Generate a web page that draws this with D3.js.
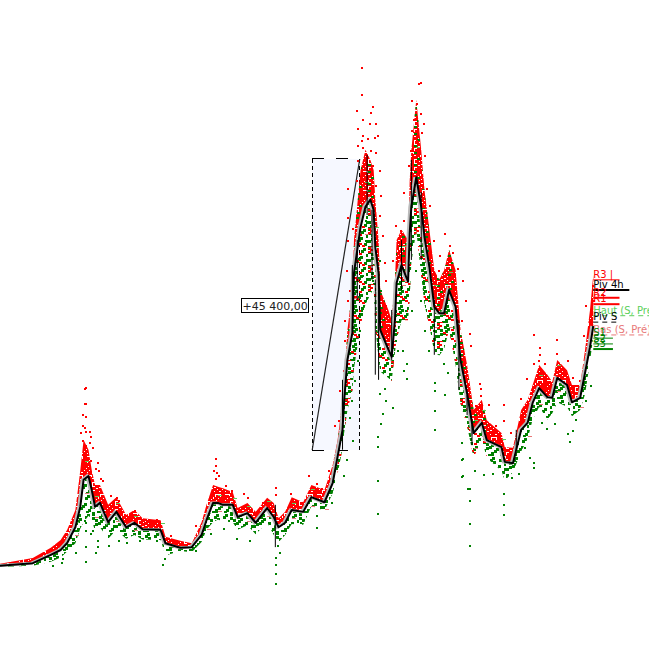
<!DOCTYPE html>
<html>
<head>
<meta charset="utf-8">
<script src="https://cdn.jsdelivr.net/npm/d3@7"></script>
<style>
body { margin: 0; background: #fff; }
text { font-family: "DejaVu Sans", sans-serif; font-size: 10px; }
</style>
</head>
<body>
<div id="chart"></div>
<script>
var width = 649;
var height = 658;

// weekly closes
var closeWeeks = [0,20,31,37,41,46,49,51,54,56,58,61,66,71,77,82,87,98,101,110,117,123,126,130,133,136,142,145,151,156,163,167,170,174,178,185,190,198,203,206,209,210,212,215,216,220,223,226,228,229,231,232,237,239,241,242,245,249,250,251,254,257,259,262,265,268,271,274,278,281,285,289,294,297,306,308,313,318,322,325,329,334,337,340,346,349,354,357,360,362];
var closeVals = [200,600,1900,2650,3750,6200,9400,13600,14200,12000,9400,10000,7000,8600,6200,6900,5900,5800,3700,3000,3100,5000,7300,10000,10000,9700,9700,7800,8400,6900,9200,7800,6200,6900,8900,8600,10900,10100,13100,17200,21400,26000,32300,36500,45900,53000,56200,57300,55700,49900,45900,37000,33900,32800,38500,44300,47100,44500,52100,56200,60800,56200,51500,46800,40600,39600,39600,43200,40600,32300,27100,20900,22500,19800,18700,16400,16200,21400,22500,25600,27900,26500,26400,29500,28400,25700,26400,30300,34300,37600];

// top of the red cloud and bottom of the green cloud, same weeks as the closes
var redTop = [500,1400,3000,4200,5800,8900,15100,19800,18300,15100,12800,12800,9700,10900,8100,8900,7600,7300,4700,4100,3700,7000,9700,12800,12500,12300,11700,9200,10000,8600,10800,10000,7600,8600,10900,10100,12800,12000,15900,19800,26100,28400,37000,43200,51000,61900,65100,63500,61900,57300,51000,43200,40100,38500,44800,51000,52600,51000,60400,65100,72900,65100,58800,52600,46300,44800,46300,49500,46300,37000,31500,24500,26100,22900,20900,18700,18600,24500,26100,28400,31500,30000,28900,32300,30700,28400,28400,33900,40100,45600];
var greenBot = [0,200,800,1500,2400,3700,6000,7000,8000,7500,5500,6200,4400,5800,4400,5000,4300,4200,1800,2500,2300,3900,5800,7000,7400,7100,7000,5800,6500,5100,7000,5000,3900,5000,6700,6600,9500,8800,11500,14500,18500,21000,24500,27500,31000,37500,41000,42500,43500,37500,32500,30500,29500,29000,33500,35500,38500,38500,42000,47500,52500,45500,41000,37500,33500,33000,34000,37000,31500,25500,22000,17000,20000,17000,15000,13500,14800,18000,20000,23000,25000,23000,24000,25700,25000,23500,24500,27000,32000,36000];

// loose red points
var redWeeks = [51,52,51,52,50,52,50,51,49,52,54,55,50,52,54,56,55,58,61,60,62,59,67,71,72,82,83,89,95,104,119,131,131,130,132,131,133,137,141,148,151,160,168,168,177,188,193,193,196,200,203,209,207,206,204,210,210,212,213,211,212,212,212,215,216,217,217,218,220,220,220,217,227,226,221,218,225,229,221,230,224,228,221,218,226,229,223,227,231,220,224,229,232,231,233,234,235,233,237,235,256,255,251,254,256,252,258,251,257,254,250,259,249,260,246,262,241,246,244,249,242,239,247,264,268,267,271,274,276,279,282,284,281,286,287,292,293,298,293,290,307,307,311,302,300,317,321,325,329,329,325,328,332,331,339,339,340,346,343,349,353,360,356,357,361,362];
var redVals = [27900,28100,25600,25600,23900,23600,22200,21800,21100,21200,21200,20400,19800,19000,19500,18700,16700,15400,13900,15100,13600,16400,11200,10900,10500,8900,8100,7300,7500,5000,6600,17000,15900,15100,14800,13900,14400,12800,12000,11500,10900,10100,12500,11400,11500,14400,13100,12000,12300,15100,15900,30700,27600,22900,22200,35400,38500,41700,43200,46300,59100,54600,51000,52900,47900,54900,60400,63500,66600,78000,73800,71300,71900,71000,69900,68500,69300,69300,67400,67400,66900,67100,65500,65800,65100,64700,63800,62700,61900,61200,60700,59600,58000,54900,51800,47600,44800,41700,37800,40900,75700,75500,72900,72400,70800,69900,69300,68200,67900,66600,65100,64300,62700,59100,58500,56500,53400,54100,52600,53400,50700,47900,49500,51000,48700,46300,52100,50200,49100,46600,44800,41700,38500,36500,34600,28700,27900,25400,26800,25300,25400,22900,21100,22200,21100,26400,29500,36300,34300,33200,31800,32300,31800,30300,35600,33400,32000,32300,31000,29600,29200,39300,36200,40900,44000,41700];

// loose green points
var greenWeeks = [52,52,58,59,59,52,55,52,51,56,66,72,77,85,95,99,100,32,38,46,37,168,168,168,168,170,169,144,152,119,136,128,193,193,183,209,211,202,230,230,230,230,232,233,239,235,231,234,248,248,246,271,265,265,273,270,265,265,281,282,282,286,286,286,286,213,214,216,218,219,220,215,229,227,224,221,223,226,232,231,223,256,253,256,251,259,262,255,258,261,264,245,242,247,241,325,325,323,320,295,289,300,330,333,338,347,349,351,346,312,316,357,360,307,307,307,285,281,281];
var greenVals = [900,3300,2300,3300,4200,5800,5300,7000,7300,5800,3400,4200,3900,4200,4200,500,1400,300,1400,2300,800,-2500,-900,500,1600,2300,3400,4500,4200,2700,6100,5300,8100,6200,7000,14400,16800,10100,8400,13600,18900,20400,22500,24000,25000,26100,27100,27900,31800,29500,30700,27000,27600,28900,30400,31800,21500,24500,19500,17000,14400,10500,12300,6900,3400,23400,26000,29200,32300,37000,40100,19800,41700,44800,47900,45600,51000,53400,43200,47900,54100,51000,46300,41700,40100,37000,41700,53400,44800,33900,37000,33900,33900,40100,35400,15600,16400,17200,18700,14500,15100,14700,22600,21700,22500,19700,21400,23100,20900,14000,14700,26100,28400,8300,11500,9800,12300,14200,16800];

// weekly previous high / low marks
var hautWeeks = [46,52,58,71,82,98,126,133,142,151,163,178,190,198,216,223,229,245,254,265,274,289,294,306,322,329,340,354];
var hautVals = [7000,16500,11000,10000,8000,6800,8500,11200,10800,9500,10300,10000,12200,11200,49000,60000,53000,50000,65500,44000,46000,23000,24500,20000,24500,30000,31500,28000];
var basVals = [5000,11500,7800,7200,5700,4700,6000,8800,8500,7200,8000,7600,9500,9000,42000,52000,45000,44000,56000,37500,37500,18500,20500,17000,20500,25500,27500,25000];

// wicks around the closes
var wickWeeks = [209,215,218,224,227,229,231,239,245,251,257,265,280,285,168,288,315];
var wickHigh = [29200,47100,51000,64300,55700,44800,43200,40100,51000,63500,58500,41700,38500,26800,9700,22200,21400];
var wickLow = [18300,37000,41700,54900,44800,30000,29200,32300,43200,47900,47900,33100,27600,23700,3100,19000,18300];

// price levels at the right
var levelNames = ["R3 |","Piv 4h","R2","R1","Haut (S, Pré)","Piv S","Bas (S, Pré)","S1","S2","S3"];
var levelVals = [44800,43200,42000,41000,39200,38200,36200,35700,34800,34000];
var levelEnds = [378,384,378,378,396,378,396,374,374,374];
var levelColors = ["#ff0000","#000","#ff0000","#ff0000","#5ad05a","#000","#e87878","#008000","#008000","#008000"];
var levelDash = [null,null,null,null,"5 4","5 4","5 4",null,null,null];
var levelWidths = [1,2,2,2,1,1,1,1,1,2];

// price range measure
var measureWeeks = [190.5,219.5];
var measureVals = [18250,63650];
var measureLabel = "+45 400,00";

var x = d3.scaleLinear().domain([0,396]).range([0,649]);
var y = d3.scaleLinear().domain([0,88452]).range([567,0]);

var svg = d3.select('#chart')
  .append('svg')
  .attr('width', width)
  .attr('height', height)
  .style('display', 'block');

// speckle tiles for the dense part of the clouds
var speckle = [[0,0],[4,0],[9,1],[14,0],[18,1],[2,2],[7,3],[12,3],[16,3],[21,2],[0,4],[5,5],[10,5],[19,5],[3,6],[14,6],[8,7],[17,7],[21,7],[1,8],[6,9],[11,8],[15,9],[20,9],[3,10],[9,11],[13,11],[18,11],[0,12],[6,13],[11,13],[16,13],[21,12],[3,14],[8,15],[14,15],[19,15],[1,16],[5,17],[11,17],[17,17],[21,17],[8,18],[14,18],[0,18],[3,18]];
var defs = svg.append('defs');
function makeTile(id, color, step, w, h) {
  var p = defs.append('pattern')
    .attr('id', id)
    .attr('patternUnits', 'userSpaceOnUse')
    .attr('width', 23)
    .attr('height', 19);
  p.selectAll('rect')
    .data(speckle.filter(function(d, i) { return i % step == 0; }))
    .enter()
    .append('rect')
    .attr('x', function(d) { return d[0]; })
    .attr('y', function(d) { return d[1]; })
    .attr('width', w)
    .attr('height', h)
    .attr('fill', color);
}
makeTile('redTile', '#ff0000', 1, 4, 3);
makeTile('redSparse', '#ff0000', 5, 3, 2);
makeTile('greenTile', '#008000', 2, 3, 3);
makeTile('greenSparse', '#008000', 7, 3, 2);

// measure box
var bx0 = x(measureWeeks[0]), bx1 = x(measureWeeks[1]);
var by0 = y(measureVals[0]), by1 = y(measureVals[1]);

svg.append('rect')
  .attr('x', bx0)
  .attr('y', by1)
  .attr('width', bx1 - bx0)
  .attr('height', by0 - by1)
  .attr('fill', '#f6f8ff');

var box = svg.append('g').attr('stroke', '#000').attr('shape-rendering', 'crispEdges');
box.append('line').attr('x1', bx0).attr('x2', bx0).attr('y1', by1).attr('y2', by0).attr('stroke-dasharray', '4 3');
box.append('line').attr('x1', bx1).attr('x2', bx1).attr('y1', by1).attr('y2', by0).attr('stroke-dasharray', '4 3');
box.append('line').attr('x1', bx0).attr('x2', bx1).attr('y1', by1).attr('y2', by1).attr('stroke-dasharray', '12 12');
box.append('line').attr('x1', bx0).attr('x2', bx1).attr('y1', by0).attr('y2', by0).attr('stroke-dasharray', '12 12');

svg.append('line')
  .attr('x1', bx0)
  .attr('y1', by0)
  .attr('x2', bx1)
  .attr('y2', by1)
  .attr('stroke', '#222')
  .attr('stroke-width', 1.2);

var labelBox = svg.append('g').attr('transform', 'translate(' + (bx0 - 70.5) + ',' + Math.round((by0 + by1) / 2 - 7) + '.5)');
labelBox.append('rect').attr('width', 67).attr('height', 14).attr('fill', '#fff').attr('stroke', '#000').attr('shape-rendering', 'crispEdges');
labelBox.append('text').attr('x', 33.5).attr('y', 11).attr('text-anchor', 'middle').attr('fill', '#222').style('font-size', '11px').text(measureLabel);

// clouds
var idx = d3.range(closeWeeks.length);
var peakIdx = idx.filter(function(i) { return closeWeeks[i] >= 206 && closeWeeks[i] <= 297; });
var redArea = d3.area()
  .x(function(i) { return x(closeWeeks[i]); })
  .y0(function(i) { return y(closeVals[i]); })
  .y1(function(i) { return y(redTop[i]); });
var greenArea = d3.area()
  .x(function(i) { return x(closeWeeks[i]); })
  .y0(function(i) { return y(closeVals[i]); })
  .y1(function(i) { return y(greenBot[i]); });

svg.append('path').attr('d', greenArea(idx)).attr('fill', 'url(#greenTile)');
svg.append('path').attr('d', redArea(idx)).attr('fill', 'url(#redTile)');
// both colours mix around the two big tops
svg.append('path').attr('d', greenArea(peakIdx)).attr('fill', 'url(#redSparse)');
svg.append('path').attr('d', redArea(peakIdx)).attr('fill', 'url(#greenSparse)');

function drawDots(weeks, vals, color, w, h) {
  svg.append('g')
    .attr('fill', color)
    .attr('shape-rendering', 'crispEdges')
    .selectAll('rect')
    .data(weeks)
    .enter()
    .append('rect')
    .attr('x', function(d) { return x(d); })
    .attr('y', function(d, i) { return y(vals[i]); })
    .attr('width', w)
    .attr('height', h);
}

drawDots(greenWeeks, greenVals, '#008000', 2, 2);
drawDots(redWeeks, redVals, '#ff0000', 2, 2);
drawDots(hautWeeks, hautVals, '#5ad05a', 4, 1);
drawDots(hautWeeks, basVals, '#e87878', 4, 1);

// closes and wicks
var line = d3.line()
  .x(function(d, i) { return x(closeWeeks[i]); })
  .y(function(d) { return y(d); });

svg.append('path')
  .attr('d', line(closeVals))
  .attr('fill', 'none')
  .attr('stroke', '#bbb')
  .attr('stroke-width', 3)
  .attr('transform', 'translate(-1.5,0)');

svg.append('g')
  .attr('stroke', '#000')
  .selectAll('line')
  .data(wickWeeks)
  .enter()
  .append('line')
  .attr('x1', function(d) { return x(d); })
  .attr('x2', function(d) { return x(d); })
  .attr('y1', function(d, i) { return y(wickHigh[i]); })
  .attr('y2', function(d, i) { return y(wickLow[i]); });

svg.append('path')
  .attr('d', line(closeVals))
  .attr('fill', 'none')
  .attr('stroke', '#000')
  .attr('stroke-width', 2)
  .attr('stroke-linejoin', 'round');

// right hand levels
var lastWeek = closeWeeks[closeWeeks.length - 1];
var levels = svg.append('g').selectAll('g').data(levelNames).enter().append('g');

levels.append('line')
  .attr('x1', x(lastWeek))
  .attr('x2', function(d, i) { return x(levelEnds[i]); })
  .attr('y1', function(d, i) { return y(levelVals[i]); })
  .attr('y2', function(d, i) { return y(levelVals[i]); })
  .attr('stroke', function(d, i) { return levelColors[i]; })
  .attr('stroke-width', function(d, i) { return levelWidths[i]; })
  .attr('stroke-dasharray', function(d, i) { return levelDash[i]; });

levels.append('text')
  .attr('x', x(lastWeek))
  .attr('y', function(d, i) { return y(levelVals[i]) - 2; })
  .attr('fill', function(d, i) { return levelColors[i]; })
  .text(function(d) { return d; });
</script>
</body>
</html>
